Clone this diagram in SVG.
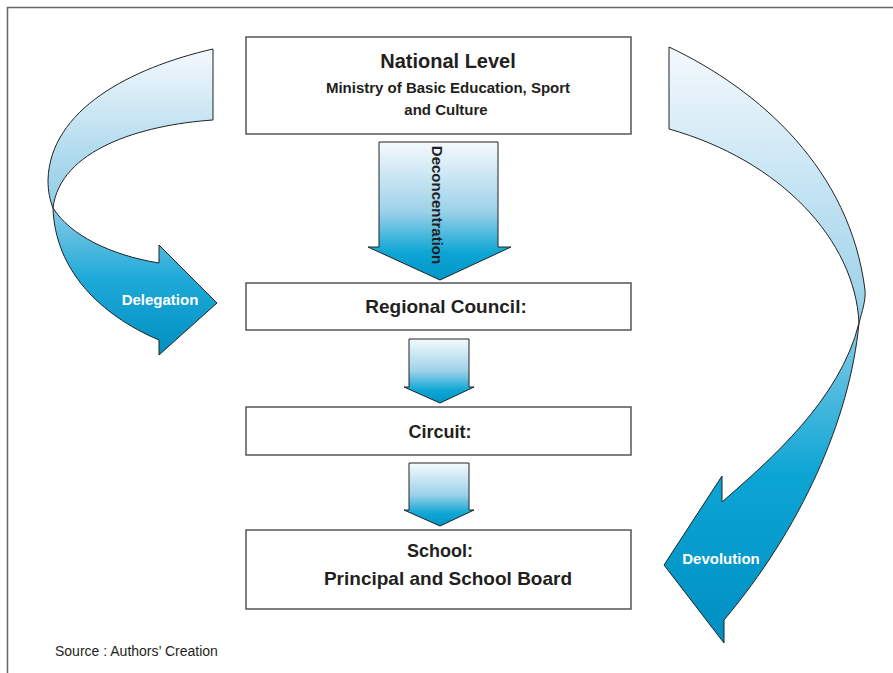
<svg xmlns="http://www.w3.org/2000/svg" width="893" height="673" viewBox="0 0 893 673">
<defs>
<linearGradient id="gDown" x1="0" y1="0" x2="0" y2="1">
<stop offset="0" stop-color="#f5fafd"/>
<stop offset="0.5" stop-color="#9dd2ea"/>
<stop offset="0.8" stop-color="#0ea6d5"/>
<stop offset="1" stop-color="#0096c8"/>
</linearGradient>
<linearGradient id="gDel" x1="0" y1="0" x2="0" y2="1">
<stop offset="0" stop-color="#f4f9fd"/>
<stop offset="0.5" stop-color="#92cde7"/>
<stop offset="0.75" stop-color="#1eaad8"/>
<stop offset="1" stop-color="#008fc2"/>
</linearGradient>
<linearGradient id="gDev" x1="0" y1="0" x2="0" y2="1">
<stop offset="0" stop-color="#f4f9fd"/>
<stop offset="0.4" stop-color="#a4d5ec"/>
<stop offset="0.72" stop-color="#0ba5d4"/>
<stop offset="1" stop-color="#008fc2"/>
</linearGradient>
<style>
.box{fill:#fff;stroke:#555;stroke-width:1.5}
.arr{stroke:#222;stroke-width:1;stroke-linejoin:miter}
.t{font-family:"Liberation Sans",Arial,sans-serif;font-weight:bold;fill:#231f20;text-anchor:middle}
.w{font-family:"Liberation Sans",Arial,sans-serif;font-weight:bold;fill:#fff;text-anchor:middle;font-size:15px}
</style>
</defs>
<rect width="893" height="673" fill="#fff"/>
<path d="M7.5,673 V7.5 H893" fill="none" stroke="#666" stroke-width="1.5"/>

<g id="connectors">
<path id="delegation-arrow" class="arr" fill="url(#gDel)" d="M213,49 C130,68 50,110 48,180 C48,192 50,200 53,208 C55,270 100,315 159,340 L159,355 L217,303 L159,245 L159,263 C110,255 70,235 53,208 C60,150 140,125 213,120 Z"/>
<path id="devolution-arrow" class="arr" fill="url(#gDev)" d="M669,47 C760,90 850,170 865,290 C866,300 862,312 859,323 C850,420 800,530 724,620 L724,643 L664,565 L722,476 L722,502 C770,460 840,400 859,323 C855,240 780,160 669,129 Z"/>
<path id="deconcentration-arrow" class="arr" fill="url(#gDown)" d="M379,142 H498 V247 H511 L440,280 L368,247 H379 Z"/>
<path id="arrow-rc-circuit" class="arr" fill="url(#gDown)" d="M409,339 H469 V387 H474 L440,403 L404,387 H409 Z"/>
<path id="arrow-circuit-school" class="arr" fill="url(#gDown)" d="M409,463 H469 V510 H474 L440,526 L404,510 H409 Z"/>
<text class="w" x="160" y="305">Delegation</text>
<text class="w" x="721" y="564">Devolution</text>
<text class="t" font-size="15" transform="translate(432,205) rotate(90)">Deconcentration</text>
</g>

<g id="national">
<rect class="box" x="246" y="37" width="385" height="97"/>
<text class="t" x="448" y="68" font-size="20">National Level</text>
<text class="t" x="448" y="93" font-size="15">Ministry of Basic Education, Sport</text>
<text class="t" x="446" y="115" font-size="15">and Culture</text>
</g>
<g id="regional">
<rect class="box" x="246" y="283" width="385" height="47"/>
<text class="t" x="446" y="313" font-size="19">Regional Council:</text>
</g>
<g id="circuit">
<rect class="box" x="246" y="407" width="385" height="48"/>
<text class="t" x="440" y="438" font-size="18">Circuit:</text>
</g>
<g id="school">
<rect class="box" x="246" y="530" width="385" height="79"/>
<text class="t" x="440" y="557" font-size="18">School:</text>
<text class="t" x="448" y="585" font-size="19">Principal and School Board</text>
</g>
<text x="55" y="656" font-family="'Liberation Sans',Arial,sans-serif" font-size="14" fill="#231f20">Source : Authors’ Creation</text>
</svg>
